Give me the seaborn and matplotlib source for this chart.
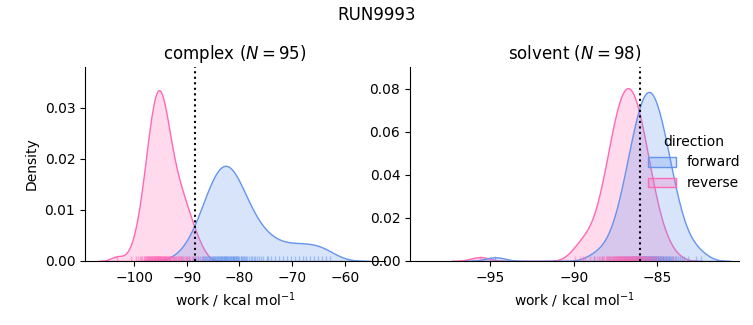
import pandas as pd
import seaborn as sns
import matplotlib.pyplot as plt

complex_forward = [
    -90.9, -89.5, -88.8, -88.2, -87.8, -87.5, -87.2, -86.9, -86.7, -86.5,
    -86.3, -86.1, -85.9, -85.7, -85.6, -85.4, -85.3, -85.1, -85.0, -84.8,
    -84.7, -84.6, -84.4, -84.3, -84.2, -84.1, -83.9, -83.8, -83.7, -83.6,
    -83.5, -83.4, -83.3, -83.1, -83.0, -82.9, -82.8, -82.7, -82.6, -82.5,
    -82.4, -82.3, -82.2, -82.0, -81.9, -81.8, -81.7, -81.6, -81.5, -81.3,
    -81.2, -81.1, -81.0, -80.8, -80.7, -80.6, -80.4, -80.3, -80.2, -80.0,
    -79.8, -79.7, -79.5, -79.3, -79.1, -78.9, -78.7, -78.5, -78.2, -77.9,
    -77.6, -77.2, -76.7, -75.9, -74.5,
    -77.0, -76.3, -75.5, -74.8, -74.0, -73.3, -72.5, -71.8, -71.0, -70.2,
    -69.5, -68.8, -68.0, -67.3, -66.6, -65.8, -65.1, -64.4, -63.6, -62.9,
]
complex_reverse = [
    -103.2,
    -100.5, -99.6, -99.2, -98.9, -98.6, -98.4, -98.2, -98.0, -97.9, -97.8,
    -97.6, -97.5, -97.4, -97.3, -97.2, -97.1, -97.0, -96.9, -96.8, -96.7,
    -96.6, -96.6, -96.5, -96.4, -96.3, -96.2, -96.2, -96.1, -96.0, -96.0,
    -95.9, -95.8, -95.7, -95.7, -95.6, -95.5, -95.5, -95.4, -95.3,
    -95.3, -95.2, -95.1, -95.1, -95.0, -94.9, -94.9, -94.8, -94.7, -94.7,
    -94.6, -94.5, -94.4, -94.4, -94.3, -94.2, -94.1, -94.1, -94.0, -93.9,
    -93.8, -93.7, -93.6, -93.5, -93.4, -93.3, -93.2, -93.1, -93.0, -92.9,
    -92.7, -92.6, -92.4, -92.2, -92.0, -91.7, -91.4, -91.0, -90.1,
    -92.6, -92.0, -91.6, -91.3, -91.0, -90.8, -90.5, -90.2, -90.0, -89.7,
    -89.4, -89.0, -88.4,
    -88.6, -87.8, -86.9,
]
solvent_forward = [
    -94.7, -88.8,
    -88.31, -87.86, -87.63, -87.47, -87.34, -87.23, -87.14, -87.05, -86.97, -86.91,
    -86.84, -86.79, -86.73, -86.68, -86.63, -86.58, -86.53, -86.50, -86.45, -86.40,
    -86.36, -86.32, -86.28, -86.26, -86.22, -86.18, -86.14, -86.11, -86.07, -86.05,
    -86.01, -85.98, -85.95, -85.91, -85.88, -85.85, -85.83, -85.80, -85.76, -85.73,
    -85.70, -85.67, -85.64, -85.61, -85.59, -85.56, -85.53, -85.50,
    -85.47, -85.44, -85.41, -85.39, -85.36, -85.33, -85.30, -85.27, -85.24, -85.20,
    -85.17, -85.15, -85.12, -85.09, -85.05, -85.02, -84.99, -84.95, -84.93, -84.89,
    -84.86, -84.82, -84.78, -84.74, -84.72, -84.68, -84.64, -84.60, -84.55, -84.50,
    -84.47, -84.42, -84.37, -84.32, -84.27, -84.21, -84.16, -84.09, -84.03, -83.95,
    -83.86, -83.77, -83.66, -83.53, -83.37, -83.14, -82.69,
    -82.4,
]
solvent_reverse = [
    -95.6, -89.9, -89.6, -89.3,
    -89.43, -89.01, -88.79, -88.63, -88.50, -88.40, -88.31, -88.23, -88.16, -88.09,
    -88.03, -87.98, -87.93, -87.87, -87.83, -87.78, -87.74, -87.70, -87.65, -87.61,
    -87.57, -87.54, -87.50, -87.47, -87.43, -87.40, -87.36, -87.33, -87.30, -87.27,
    -87.23, -87.21, -87.18, -87.14, -87.12, -87.09, -87.06, -87.03, -87.00, -86.97,
    -86.94, -86.91, -86.89, -86.86, -86.83, -86.80, -86.78,
    -86.72, -86.70, -86.67, -86.64, -86.61, -86.59, -86.56, -86.53, -86.50, -86.47,
    -86.44, -86.41, -86.38, -86.36, -86.32, -86.29, -86.27, -86.23, -86.20, -86.17,
    -86.14, -86.10, -86.07, -86.03, -86.00, -85.96, -85.93, -85.89, -85.85, -85.80,
    -85.76, -85.72, -85.67, -85.63, -85.57, -85.52, -85.47, -85.41, -85.34, -85.27,
    -85.19, -85.10, -85.00, -84.87, -84.71, -84.49, -84.07,
]

# free energy estimates (dotted lines)
dg_estimate = {"complex": -88.5, "solvent": -86.0}

phases = ["complex", "solvent"]
directions = ["forward", "reverse"]
palette = {"forward": "cornflowerblue", "reverse": "hotpink"}

works = {
    ("complex", "forward"): complex_forward,
    ("complex", "reverse"): complex_reverse,
    ("solvent", "forward"): solvent_forward,
    ("solvent", "reverse"): solvent_reverse,
}

frames = []
for (phase, direction), vals in works.items():
    frames.append(pd.DataFrame({"work": vals, "phase": phase, "direction": direction}))
df = pd.concat(frames, ignore_index=True)

g = sns.displot(
    data=df, x="work", hue="direction", col="phase",
    kind="kde", fill=True, rug=True,
    hue_order=directions, col_order=phases, palette=palette,
    facet_kws=dict(sharex=False, sharey=False),
    rug_kws=dict(alpha=0.5),
    height=3, aspect=1.1,
)

fig = g.figure
fig.set_size_inches(7.53, 3.25)

ax1, ax2 = g.axes.flat
ax1.set_position([85 / 753, 64 / 325, 300 / 753, 194 / 325])
ax2.set_position([410 / 753, 64 / 325, 329 / 753, 194 / 325])

for ax, phase in zip(g.axes.flat, phases):
    n = len(works[(phase, "forward")])
    ax.set_title(f"{phase} ($N = {n}$)", fontsize=12)
    ax.axvline(dg_estimate[phase], color="black", ls=":", lw=1.5)

ax1.set_xlim(-109.3, -52.4)
ax1.set_ylim(0, 0.038)
ax2.set_xlim(-99.8, -80.1)
ax2.set_ylim(0, 0.09)

g.set_axis_labels("work / kcal mol$^{-1}$", "Density")
fig.suptitle("RUN9993", fontsize=12)

fig.savefig("out.png", dpi=100)
